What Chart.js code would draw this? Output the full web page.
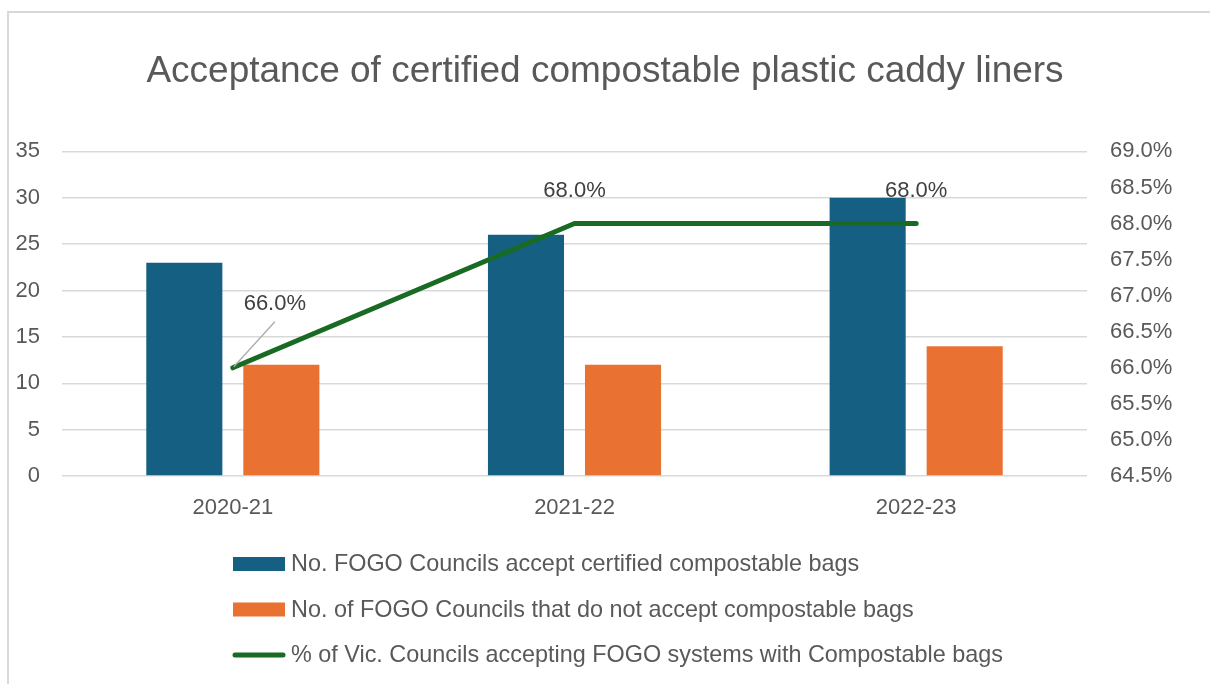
<!DOCTYPE html>
<html>
<head>
<meta charset="utf-8">
<title>Acceptance of certified compostable plastic caddy liners</title>
<script src="https://cdn.jsdelivr.net/npm/chart.js@4.4.1/dist/chart.umd.min.js"></script>
<style>
  html, body { margin: 0; padding: 0; background: #fff; }
  #chart { display: block; }
</style>
</head>
<body>
<canvas id="chart" width="1210" height="684"></canvas>
<script>
// Data
const categories = ['2020-21', '2021-22', '2022-23'];
const acceptingCouncils = [23, 26, 30];
const notAcceptingCouncils = [12, 12, 14];
const vicPercentAccepting = [66.0, 68.0, 68.0];

const countAxis = [0, 35, 5];          // min, max, step
const percentAxis = [64.5, 69.0, 0.5]; // min, max, step

const seriesNames = [
  'No. FOGO Councils accept certified compostable bags',
  'No. of FOGO Councils that do not accept compostable bags',
  '% of Vic. Councils accepting FOGO systems with Compostable bags'
];

const BLUE = '#156082';
const ORANGE = '#E97132';
const GREEN = '#196B24';
const TEXT = '#595959';
const LABEL_TEXT = '#404040';
const GRID = '#D9D9D9';
const FONT = '"Liberation Sans", Arial, sans-serif';

const fmtPct = v => v.toFixed(1) + '%';

// White background + the light frame around the chart
const framePlugin = {
  id: 'frame',
  beforeDraw(chart) {
    const c = chart.ctx;
    c.save();
    c.fillStyle = '#fff';
    c.fillRect(0, 0, chart.width, chart.height);
    c.strokeStyle = GRID;
    c.lineWidth = 2;
    c.beginPath();
    c.moveTo(8, chart.height + 2);
    c.lineTo(8, 12);
    c.lineTo(chart.width + 2, 12);
    c.stroke();
    c.restore();
  }
};

// Value labels on the line series (first one pulled out with a leader line)
const lineLabelsPlugin = {
  id: 'lineLabels',
  afterDatasetsDraw(chart) {
    const meta = chart.getDatasetMeta(2);
    const c = chart.ctx;
    const offsets = [[42, -64], [0, -33], [0, -33]];
    c.save();
    c.font = '22px ' + FONT;
    c.fillStyle = LABEL_TEXT;
    c.textAlign = 'center';
    c.textBaseline = 'middle';
    meta.data.forEach((pt, i) => {
      const [dx, dy] = offsets[i];
      if (i === 0) {
        c.strokeStyle = '#ABABAB';
        c.lineWidth = 1.3;
        c.beginPath();
        c.moveTo(pt.x + 1, pt.y - 1);
        c.lineTo(pt.x + dx, pt.y + dy + 18);
        c.stroke();
      }
      c.fillText(fmtPct(chart.data.datasets[2].data[i]), pt.x + dx, pt.y + dy);
    });
    c.restore();
  }
};

// Vertical legend under the axis, left aligned as one block
const stackedLegendPlugin = {
  id: 'stackedLegend',
  afterDraw(chart) {
    const c = chart.ctx;
    const left = 233;
    const rows = [564, 609.5, 655];
    c.save();
    c.font = '23.4px ' + FONT;
    c.textBaseline = 'middle';
    chart.data.datasets.forEach((ds, i) => {
      const y = rows[i];
      if (ds.type === 'line') {
        c.strokeStyle = ds.borderColor;
        c.lineWidth = 5;
        c.lineCap = 'round';
        c.beginPath();
        c.moveTo(left + 2, y);
        c.lineTo(left + 50, y);
        c.stroke();
      } else {
        c.fillStyle = ds.backgroundColor;
        c.fillRect(left, y - 7, 52, 14);
      }
      c.fillStyle = TEXT;
      c.fillText(ds.label, left + 58, y + 1);
    });
    c.restore();
  }
};

const ctx = document.getElementById('chart');
new Chart(ctx, {
  type: 'bar',
  data: {
    labels: categories,
    datasets: [
      {
        label: seriesNames[0],
        data: acceptingCouncils,
        backgroundColor: BLUE,
        yAxisID: 'y',
        order: 2
      },
      {
        label: seriesNames[1],
        data: notAcceptingCouncils,
        backgroundColor: ORANGE,
        yAxisID: 'y',
        order: 2
      },
      {
        type: 'line',
        label: seriesNames[2],
        data: vicPercentAccepting,
        borderColor: GREEN,
        backgroundColor: GREEN,
        borderWidth: 5,
        borderCapStyle: 'round',
        borderJoinStyle: 'round',
        pointRadius: 0,
        tension: 0,
        yAxisID: 'y1',
        order: 1
      }
    ]
  },
  options: {
    responsive: false,
    animation: false,
    datasets: {
      bar: { categoryPercentage: 0.568, barPercentage: 0.784 }
    },
    layout: { padding: 0 },
    plugins: {
      legend: { display: false },
      tooltip: { enabled: false },
      title: {
        display: true,
        text: 'Acceptance of certified compostable plastic caddy liners',
        color: TEXT,
        font: { family: FONT, size: 37, weight: 'normal' },
        padding: { top: 50, bottom: 57 }
      }
    },
    scales: {
      x: {
        grid: { display: false, drawTicks: false },
        border: { display: false },
        ticks: { color: TEXT, font: { family: FONT, size: 22 }, padding: 19 },
        afterFit(scale) { scale.height = 208; }
      },
      y: {
        position: 'left',
        min: countAxis[0],
        max: countAxis[1],
        ticks: { stepSize: countAxis[2], color: TEXT, font: { family: FONT, size: 22 }, padding: 22 },
        grid: { color: GRID, lineWidth: 1.5, drawTicks: false },
        border: { display: false },
        afterFit(scale) { scale.width = 62; }
      },
      y1: {
        position: 'right',
        min: percentAxis[0],
        max: percentAxis[1],
        ticks: {
          stepSize: percentAxis[2],
          color: TEXT,
          font: { family: FONT, size: 22 },
          padding: 23,
          callback: v => fmtPct(v)
        },
        grid: { display: false, drawTicks: false },
        border: { display: false },
        afterFit(scale) { scale.width = 123; }
      }
    }
  },
  plugins: [framePlugin, lineLabelsPlugin, stackedLegendPlugin]
});
</script>
</body>
</html>
